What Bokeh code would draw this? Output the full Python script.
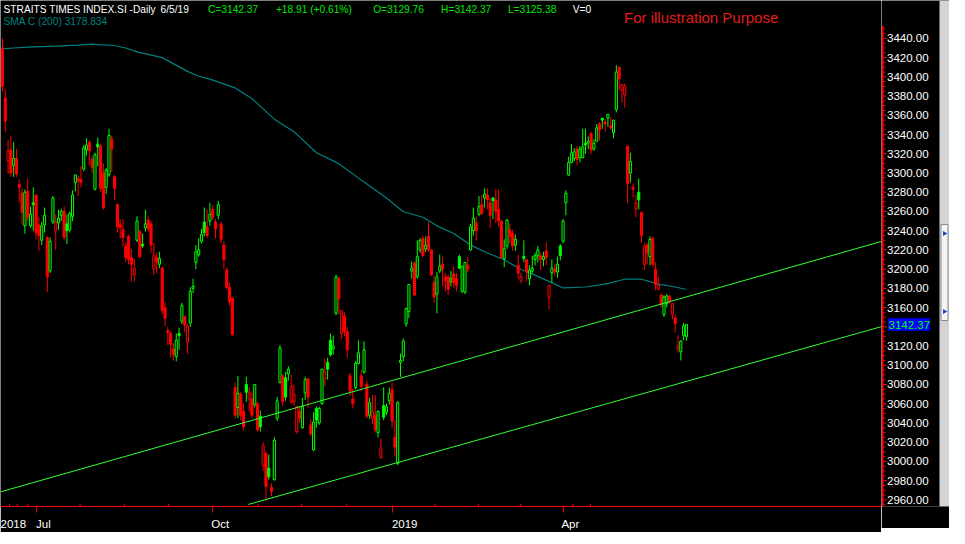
from bokeh.plotting import figure
from bokeh.models import Range1d, FixedTicker, ColumnDataSource
from bokeh.layouts import row
from bokeh.core.properties import value
from bokeh.embed import file_html
from bokeh.resources import INLINE

# ---------------- data ----------------
opens = [3430, 3378, 3313, 3324, 3308, 3315, 3288, 3279, 3245, 3281,
         3245, 3269, 3277, 3246, 3230, 3246, 3233, 3198, 3249, 3240,
         3248, 3256, 3260, 3247, 3241, 3255, 3290, 3294, 3293, 3304,
         3324, 3332, 3314, 3283, 3330, 3328, 3300, 3285, 3298, 3335,
         3296, 3267, 3246, 3241, 3224, 3234, 3212, 3194, 3230, 3239,
         3226, 3243, 3251, 3247, 3200, 3212, 3205, 3201, 3160, 3136,
         3133, 3117, 3109, 3133, 3146, 3151, 3124, 3144, 3180, 3207,
         3215, 3229, 3249, 3244, 3250, 3262, 3249, 3256, 3247, 3225,
         3199, 3181, 3170, 3077, 3056, 3070, 3052, 3080, 3065, 3065,
         3059, 3060, 3047, 2996, 3008, 2993, 2973, 2981, 3045, 3082,
         3089, 3087, 3091, 3062, 3062, 3031, 3052, 3035, 3071, 3086,
         3038, 3012, 3055, 3040, 3060, 3086, 3103, 3126, 3117, 3154,
         3190, 3133, 3151, 3135, 3089, 3065, 3077, 3102, 3089, 3093,
         3080, 3048, 3045, 3048, 3030, 3004, 3058, 3051, 3063, 3075,
         3025, 2998, 3103, 3109, 3143, 3156, 3198, 3206, 3192, 3220,
         3232, 3221, 3234, 3220, 3186, 3174, 3198, 3205, 3192, 3192,
         3187, 3195, 3190, 3213, 3177, 3176, 3204, 3220, 3240, 3248,
         3257, 3267, 3274, 3277, 3269, 3274, 3272, 3262, 3250, 3211,
         3224, 3241, 3237, 3225, 3204, 3188, 3213, 3210, 3190, 3198,
         3210, 3214, 3214, 3210, 3219, 3170, 3196, 3200, 3197, 3224,
         3229, 3269, 3298, 3311, 3315, 3325, 3316, 3316, 3331, 3331,
         3341, 3325, 3333, 3351, 3357, 3353, 3357, 3349, 3342, 3366,
         3410, 3386, 3381, 3328, 3300, 3285, 3263, 3280, 3259, 3205,
         3225, 3213, 3232, 3200, 3179, 3173, 3153, 3164, 3172, 3153,
         3149, 3117, 3114, 3131, 3129.76]

highs = [3440, 3387, 3334, 3339, 3332, 3325, 3293, 3284, 3283, 3294,
         3265, 3285, 3278, 3254, 3249, 3264, 3234, 3233, 3276, 3257,
         3262, 3263, 3265, 3257, 3260, 3282, 3298, 3297, 3307, 3329,
         3336, 3334, 3318, 3321, 3337, 3330, 3310, 3305, 3346, 3339,
         3298, 3268, 3252, 3252, 3228, 3236, 3221, 3211, 3255, 3241,
         3237, 3262, 3255, 3250, 3227, 3217, 3218, 3203, 3166, 3140,
         3135, 3123, 3133, 3139, 3165, 3151, 3143, 3181, 3190, 3225,
         3232, 3242, 3264, 3262, 3269, 3267, 3252, 3271, 3249, 3229,
         3202, 3186, 3170, 3082, 3089, 3072, 3060, 3088, 3077, 3073,
         3080, 3062, 3053, 3020, 3010, 3007, 2977, 3025, 3067, 3121,
         3091, 3093, 3099, 3090, 3080, 3058, 3057, 3066, 3088, 3086,
         3044, 3051, 3057, 3057, 3096, 3107, 3108, 3133, 3131, 3194,
         3192, 3157, 3155, 3140, 3092, 3076, 3104, 3126, 3095, 3125,
         3084, 3066, 3069, 3069, 3053, 3024, 3077, 3060, 3077, 3082,
         3043, 3063, 3112, 3128, 3160, 3184, 3208, 3208, 3230, 3232,
         3235, 3234, 3249, 3220, 3193, 3197, 3215, 3213, 3196, 3194,
         3198, 3203, 3196, 3215, 3203, 3207, 3212, 3247, 3264, 3254,
         3276, 3277, 3284, 3284, 3274, 3275, 3283, 3283, 3250, 3231,
         3252, 3247, 3241, 3236, 3215, 3196, 3230, 3210, 3204, 3214,
         3217, 3224, 3217, 3218, 3228, 3183, 3210, 3205, 3213, 3226,
         3252, 3282, 3317, 3330, 3326, 3328, 3328, 3346, 3346, 3338,
         3343, 3335, 3351, 3353, 3357, 3356, 3361, 3358, 3355, 3412,
         3411, 3392, 3393, 3328, 3321, 3289, 3277, 3294, 3260, 3227,
         3227, 3234, 3234, 3207, 3192, 3175, 3173, 3174, 3173, 3165,
         3153, 3131, 3126, 3144, 3142.37]

lows = [3385, 3343, 3299, 3296, 3296, 3296, 3269, 3246, 3237, 3250,
        3243, 3240, 3231, 3219, 3225, 3238, 3176, 3196, 3247, 3220,
        3241, 3250, 3230, 3226, 3238, 3250, 3281, 3276, 3285, 3302,
        3318, 3308, 3300, 3282, 3307, 3280, 3262, 3278, 3296, 3301,
        3272, 3238, 3232, 3224, 3207, 3205, 3187, 3187, 3228, 3211,
        3222, 3239, 3239, 3217, 3194, 3196, 3201, 3153, 3141, 3121,
        3108, 3105, 3104, 3116, 3143, 3135, 3112, 3140, 3175, 3200,
        3213, 3227, 3234, 3232, 3245, 3251, 3232, 3252, 3227, 3200,
        3179, 3162, 3130, 3045, 3045, 3043, 3032, 3062, 3052, 3045,
        3056, 3031, 3031, 2990, 2959, 2981, 2964, 2980, 3042, 3081,
        3058, 3063, 3084, 3060, 3058, 3029, 3040, 3034, 3064, 3056,
        3026, 3011, 3035, 3038, 3059, 3078, 3085, 3109, 3111, 3152,
        3153, 3127, 3130, 3108, 3068, 3055, 3075, 3101, 3073, 3091,
        3045, 3044, 3039, 3030, 3025, 3003, 3043, 3048, 3059, 3035,
        3005, 2996, 3088, 3104, 3140, 3149, 3190, 3172, 3190, 3217,
        3213, 3218, 3218, 3193, 3165, 3154, 3196, 3182, 3177, 3173,
        3182, 3180, 3177, 3200, 3175, 3174, 3197, 3219, 3235, 3230,
        3255, 3256, 3264, 3262, 3243, 3252, 3248, 3244, 3211, 3202,
        3221, 3227, 3219, 3219, 3190, 3185, 3207, 3187, 3183, 3195,
        3204, 3207, 3199, 3203, 3204, 3158, 3186, 3193, 3191, 3209,
        3227, 3256, 3297, 3310, 3312, 3308, 3311, 3315, 3320, 3325,
        3320, 3323, 3332, 3334, 3346, 3343, 3348, 3345, 3336, 3363,
        3386, 3373, 3368, 3269, 3290, 3275, 3254, 3262, 3227, 3199,
        3205, 3204, 3202, 3178, 3178, 3160, 3150, 3160, 3164, 3148,
        3134, 3113, 3105, 3126, 3125.38]

closes = [3390, 3354, 3323, 3300, 3315, 3299, 3285, 3259, 3280, 3254,
          3257, 3267, 3238, 3235, 3245, 3256, 3192, 3229, 3274, 3249,
          3253, 3260, 3233, 3240, 3258, 3277, 3298, 3292, 3290, 3326,
          3329, 3323, 3306, 3319, 3327, 3284, 3264, 3303, 3339, 3325,
          3284, 3244, 3243, 3233, 3212, 3210, 3205, 3201, 3250, 3213,
          3224, 3247, 3242, 3225, 3214, 3208, 3211, 3157, 3149, 3134,
          3122, 3111, 3126, 3131, 3162, 3142, 3141, 3177, 3182, 3218,
          3220, 3236, 3238, 3235, 3257, 3254, 3242, 3267, 3231, 3210,
          3181, 3166, 3132, 3048, 3071, 3048, 3036, 3072, 3071, 3048,
          3080, 3033, 3036, 3016, 2974, 2984, 2969, 3022, 3063, 3118,
          3062, 3067, 3096, 3078, 3070, 3057, 3045, 3057, 3085, 3067,
          3029, 3041, 3043, 3055, 3096, 3093, 3096, 3111, 3120, 3192,
          3169, 3157, 3135, 3116, 3073, 3060, 3102, 3113, 3078, 3116,
          3047, 3061, 3052, 3033, 3052, 3014, 3046, 3057, 3071, 3042,
          3015, 3061, 3105, 3125, 3159, 3184, 3201, 3173, 3213, 3230,
          3214, 3225, 3220, 3194, 3171, 3192, 3203, 3200, 3188, 3179,
          3190, 3186, 3183, 3201, 3203, 3207, 3200, 3244, 3253, 3240,
          3265, 3258, 3278, 3272, 3256, 3271, 3260, 3250, 3212, 3221,
          3251, 3234, 3224, 3231, 3196, 3192, 3211, 3197, 3199, 3201,
          3214, 3220, 3210, 3213, 3212, 3183, 3201, 3197, 3205, 3214,
          3250, 3279, 3311, 3321, 3322, 3314, 3325, 3327, 3329, 3333,
          3324, 3331, 3347, 3345, 3355, 3351, 3361, 3347, 3355, 3405,
          3398, 3392, 3390, 3289, 3312, 3283, 3269, 3272, 3235, 3224,
          3217, 3231, 3205, 3184, 3183, 3163, 3171, 3172, 3166, 3164,
          3143, 3120, 3125, 3141, 3142.37]

close_before_first = 3445.0

# 200-day simple moving average (bar index, value)
sma_idx = [0, 4, 9, 19, 27, 32, 34, 40, 44, 48, 57, 66, 70, 74, 83, 89, 97,
           104, 112, 120, 129, 137, 143, 150, 155, 161, 167, 173, 179, 185,
           191, 197, 200, 208, 215, 222, 228, 234, 240, 244]
sma_val = [3429, 3430, 3431, 3432, 3433, 3434, 3433.5, 3432.6, 3430, 3426,
           3420, 3405.7, 3400.6, 3397.6, 3388.5, 3377.4, 3356, 3343, 3321,
           3309.7, 3290.5, 3274, 3259.7, 3254, 3245, 3237, 3225, 3216.8,
           3209.7, 3199.6, 3192.5, 3184.4, 3180.4, 3181.4, 3184.4, 3189.5,
           3189.5, 3184.4, 3181.4, 3178.834]

# hand-drawn channel lines (bar index, price)
upper_trend_idx = [-0.7, 313.6]
upper_trend_val = [2968.3, 3228.8]
lower_trend_idx = [87.7, 313.6]
lower_trend_val = [2955.2, 3140.2]

# date axis
month_tick_idx = [12, 75, 139, 200]
month_tick_lab = ["Jul", "Oct", "2019", "Apr"]
first_year_lab = "2018"
minor_tick_idx = [2.5, 5.3, 9.1, 27.7, 43.5, 59.3, 91.2, 106.7, 122.8,
                  154.4, 169.8, 184.9, 203.5, 209.8]

# price axis
price_ticks = list(range(2960, 3441, 20))
price_minor = [v for v in range(2955, 3451, 5) if v % 20 != 0]

# header values
symbol = "STRAITS TIMES INDEX.SI -Daily"
last_date = "6/5/19"
change = 18.91
change_pct = 0.61
volume = 0
sma_period = 200
note = "For illustration Purpose"

# ---------------- layout constants ----------------
FRAME_W, AXIS_W, FRAME_H, BOTTOM = 881, 68, 506, 22
X_LO, X_HI = -0.7, 313.6
Y_LO, Y_HI = 2953.1, 3479.4
PX_BAR = FRAME_W / (X_HI - X_LO)
PX_PT = FRAME_H / (Y_HI - Y_LO)


def at_x(px):
    return X_LO + px / PX_BAR


def at_y(py):
    return Y_HI - py / PX_PT


GREEN = "#00ff00"
RED = "#ff0000"
TEAL = "#008080"
FONT = "Liberation Sans"

# ---------------- candles ----------------
n = len(closes)
assert len(opens) == len(highs) == len(lows) == n
xs = list(range(n))
prev = [close_before_first] + closes[:-1]
color = [GREEN if c > pc else RED for c, pc in zip(closes, prev)]
fill = ["#000000" if c > o else col for o, c, col in zip(opens, closes, color)]
top = [max(o, c) for o, c in zip(opens, closes)]
bot = [min(o, c) for o, c in zip(opens, closes)]
src = ColumnDataSource(dict(x=xs, o=opens, h=highs, l=lows, c=closes,
                            top=top, bot=bot, color=color, fill=fill))

yr = Range1d(Y_LO, Y_HI)
p = figure(frame_width=FRAME_W, frame_height=FRAME_H,
           x_range=Range1d(X_LO, X_HI), y_range=yr,
           output_backend="svg", toolbar_location=None,
           y_axis_location=None, x_axis_location="below",
           min_border_left=0, min_border_top=0, min_border_right=0,
           min_border_bottom=BOTTOM,
           background_fill_color="#000000", border_fill_color="#000000")
p.outline_line_color = None
p.grid.visible = False

p.line(sma_idx, sma_val, line_color=TEAL, line_width=1.2)

p.segment(x0="x", y0="l", x1="x", y1="h", line_color="color", line_width=1,
          source=src)
p.vbar(x="x", width=0.75, top="top", bottom="bot", fill_color="fill",
       line_color="color", line_width=1, source=src)

p.line(upper_trend_idx, upper_trend_val, line_color="#33ff33", line_width=1)
p.line(lower_trend_idx, lower_trend_val, line_color="#33ff33", line_width=1)

# small in-frame minor ticks of the date axis
p.segment(x0=minor_tick_idx, x1=minor_tick_idx, y0=[Y_LO] * len(minor_tick_idx),
          y1=[Y_LO + 2.5 / PX_PT] * len(minor_tick_idx), line_color=RED,
          line_width=1)

# ---------------- date axis ----------------
label_offsets = [2.6, 2.7, 4.5, 2.6]  # labels sit just right of their tick
lab_pos = [3.5] + [round(t + off, 2) for t, off in zip(month_tick_idx, label_offsets)]
lab_txt = [first_year_lab] + month_tick_lab
xa = p.xaxis[0]
xa.ticker = FixedTicker(ticks=lab_pos, minor_ticks=month_tick_idx)
xa.major_label_overrides = {pos: t for pos, t in zip(lab_pos, lab_txt)}
xa.axis_line_color = RED
xa.axis_line_width = 1
xa.major_tick_line_color = None
xa.major_tick_in = 0
xa.major_tick_out = 0
xa.minor_tick_line_color = RED
xa.minor_tick_in = 1
xa.minor_tick_out = 6
xa.major_label_standoff = 5
xa.major_label_text_color = "#ffffff"
xa.major_label_text_font = FONT
xa.major_label_text_font_size = "11.5px"

# ---------------- header texts ----------------
last = closes[-1]
hx, hy, ht, hc = [], [], [], []


def hdr(text, px, py, col):
    hx.append(at_x(px)); hy.append(at_y(py)); ht.append(text); hc.append(col)


HG = "#00e600"
hdr(symbol, 3, 9.2, "#ffffff")
hdr(last_date, 160, 9.2, "#ffffff")
hdr(f"C={last:.2f}", 207.5, 9.2, HG)
hdr(f"+{change:.2f} (+{change_pct:.2f}%)", 275.4, 9.2, HG)
hdr(f"O={opens[-1]:.2f}", 372.7, 9.2, HG)
hdr(f"H={highs[-1]:.2f}", 440.6, 9.2, HG)
hdr(f"L={lows[-1]:.2f}", 507.4, 9.2, HG)
hdr(f"V={volume}", 572.3, 9.2, "#ffffff")
hdr(f"SMA C ({sma_period}) {sma_val[-1]:.3f}", 3, 20.9, TEAL)
p.text(x=hx, y=hy, text=ht, text_color=hc, text_font=value(FONT),
       text_font_size=value("10.2px"), text_baseline="middle", text_align="left")
p.text(x=[at_x(623.5)], y=[at_y(16.7)], text=[note], text_color="#e31b1b",
       text_font=value(FONT), text_font_size=value("15px"),
       text_baseline="middle", text_align="left")

# ---------------- price axis panel ----------------
q = figure(frame_width=AXIS_W, frame_height=FRAME_H,
           x_range=Range1d(0, AXIS_W), y_range=yr,
           output_backend="svg", toolbar_location=None,
           x_axis_location=None, y_axis_location=None,
           min_border_left=0, min_border_top=0, min_border_right=0,
           min_border_bottom=BOTTOM,
           background_fill_color="#000000", border_fill_color="#000000")
q.outline_line_color = None
q.grid.visible = False

# scroll bar at the far right
q.quad(left=[AXIS_W - 10], right=[AXIS_W], bottom=[Y_LO], top=[Y_HI],
       fill_color="#d4d4d4", line_color=None)
q.quad(left=[AXIS_W - 8.5], right=[AXIS_W - 1.5], bottom=[at_y(320)],
       top=[at_y(224)], fill_color="#f4f4f4", line_color="#8a8a8a",
       line_width=1)
q.scatter(x=[AXIS_W - 5, AXIS_W - 5], y=[at_y(233), at_y(311)],
          marker="triangle", angle=-1.5708, size=5, fill_color="#2040c0",
          line_color=None)

q.segment(x0=[1], x1=[1], y0=[Y_LO], y1=[3453], line_color=RED, line_width=2)
q.segment(x0=[1] * len(price_ticks), x1=[5.5] * len(price_ticks),
          y0=price_ticks, y1=price_ticks, line_color=RED, line_width=1)
q.segment(x0=[1] * len(price_minor), x1=[4] * len(price_minor),
          y0=price_minor, y1=price_minor, line_color=RED, line_width=1)
shown = [t for t in price_ticks if abs(t - last) > 8]
q.text(x=[5.5] * len(shown), y=shown, text=[f"{t:.2f}" for t in shown],
       text_color="#ffffff", text_font=value(FONT),
       text_font_size=value("11.5px"), text_baseline="middle",
       text_align="left")

box_half = 6.3 / PX_PT
q.quad(left=[6.5], right=[48.5], bottom=[last - box_half], top=[last + box_half],
       fill_color="#0000ff", line_color=None)
q.text(x=[7], y=[last], text=[f"{last:.2f}"], text_color=GREEN,
       text_font=value(FONT), text_font_size=value("11.5px"),
       text_baseline="middle", text_align="left")

layout = row(p, q)
open("out.html", "w").write(file_html(layout, INLINE, title="STI"))
